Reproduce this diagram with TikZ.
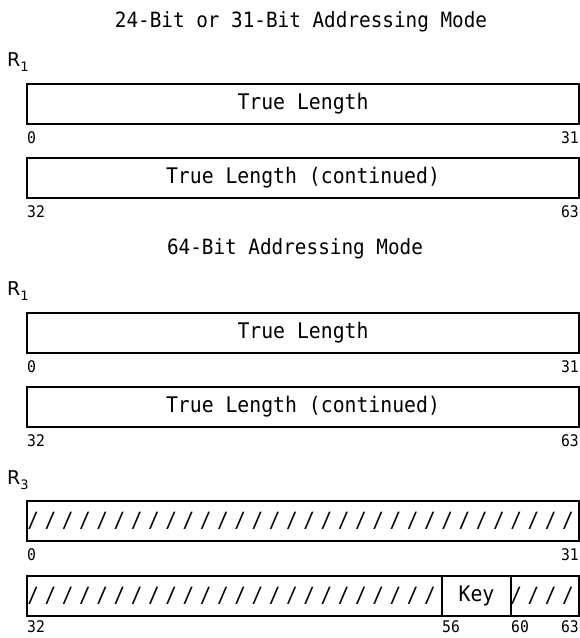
\documentclass[tikz,border=0pt]{standalone}
\usepackage{fontspec}
\setmainfont[FakeStretch=0.92]{DejaVu Sans Mono}
\newfontfamily\rfont{DejaVu Sans}
\begin{document}
\begin{tikzpicture}[x=1pt,y=-1pt,
  regbox/.style={draw=black,line width=2.6pt,minimum height=40pt,inner sep=0pt,
    font=\fontsize{21.5}{22}\selectfont},
  title/.style={font=\fontsize{21}{22}\selectfont,inner sep=0pt},
  bitlbl/.style={font=\fontsize{16}{16}\selectfont,inner sep=0pt},
  reglbl/.style={font=\rfont\fontsize{19}{20}\selectfont,inner sep=0pt,anchor=west},
  slash/.style={font=\fontsize{21}{21}\selectfont,inner sep=0pt}]
\useasboundingbox (0,0) rectangle (580,638);
\newcommand{\regname}[1]{R\raisebox{-0.45ex}{\fontsize{13}{13}\selectfont #1}}
% titles
\node[title] (t1) at (301,22) {24-Bit or 31-Bit Addressing Mode};
\node[title] (t2) at (295,249) {64-Bit Addressing Mode};
% register labels
\node[reglbl] (r1a) at (7,62) {\regname{1}};
\node[reglbl] (r1b) at (7,291) {\regname{1}};
\node[reglbl] (r3) at (7,480) {\regname{3}};
% boxes
\node[regbox,minimum width=552pt] (b1) at (303,104) {True Length};
\node[regbox,minimum width=552pt] (b2) at (303,178) {True Length (continued)};
\node[regbox,minimum width=552pt] (b3) at (303,333) {True Length};
\node[regbox,minimum width=552pt] (b4) at (303,407) {True Length (continued)};
\node[regbox,minimum width=552pt] (b5) at (303,521) {};
\node[regbox,minimum width=415pt] (b6a) at (234.5,596) {};
\node[regbox,minimum width=69pt] (b6k) at (476.5,596) {Key};
\node[regbox,minimum width=68pt] (b6c) at (545,596) {};
% slashes
\foreach \i in {0,...,31}{
  \node[slash] (s5\i) at ({27+17.25*(\i+0.5)-2.5},521) {/};
}
\foreach \i in {0,...,23}{
  \node[slash] (s6\i) at ({27+17.25*(\i+0.5)-2.5},596) {/};
}
\foreach \i in {28,...,31}{
  \node[slash] (s7\i) at ({27+17.25*(\i+0.5)-2.5},596) {/};
}
% bit labels
\node[bitlbl,anchor=west] (l1a) at (27,138) {0};
\node[bitlbl,anchor=east] (l1b) at (579,138) {31};
\node[bitlbl,anchor=west] (l2a) at (27,212) {32};
\node[bitlbl,anchor=east] (l2b) at (579,212) {63};
\node[bitlbl,anchor=west] (l3a) at (27,367) {0};
\node[bitlbl,anchor=east] (l3b) at (579,367) {31};
\node[bitlbl,anchor=west] (l4a) at (27,441) {32};
\node[bitlbl,anchor=east] (l4b) at (579,441) {63};
\node[bitlbl,anchor=west] (l5a) at (27,555) {0};
\node[bitlbl,anchor=east] (l5b) at (579,555) {31};
\node[bitlbl,anchor=west] (l6a) at (27,627) {32};
\node[bitlbl,anchor=west] (l6b) at (442,627) {56};
\node[bitlbl,anchor=west] (l6c) at (511,627) {60};
\node[bitlbl,anchor=east] (l6d) at (579,627) {63};
\end{tikzpicture}
\end{document}
